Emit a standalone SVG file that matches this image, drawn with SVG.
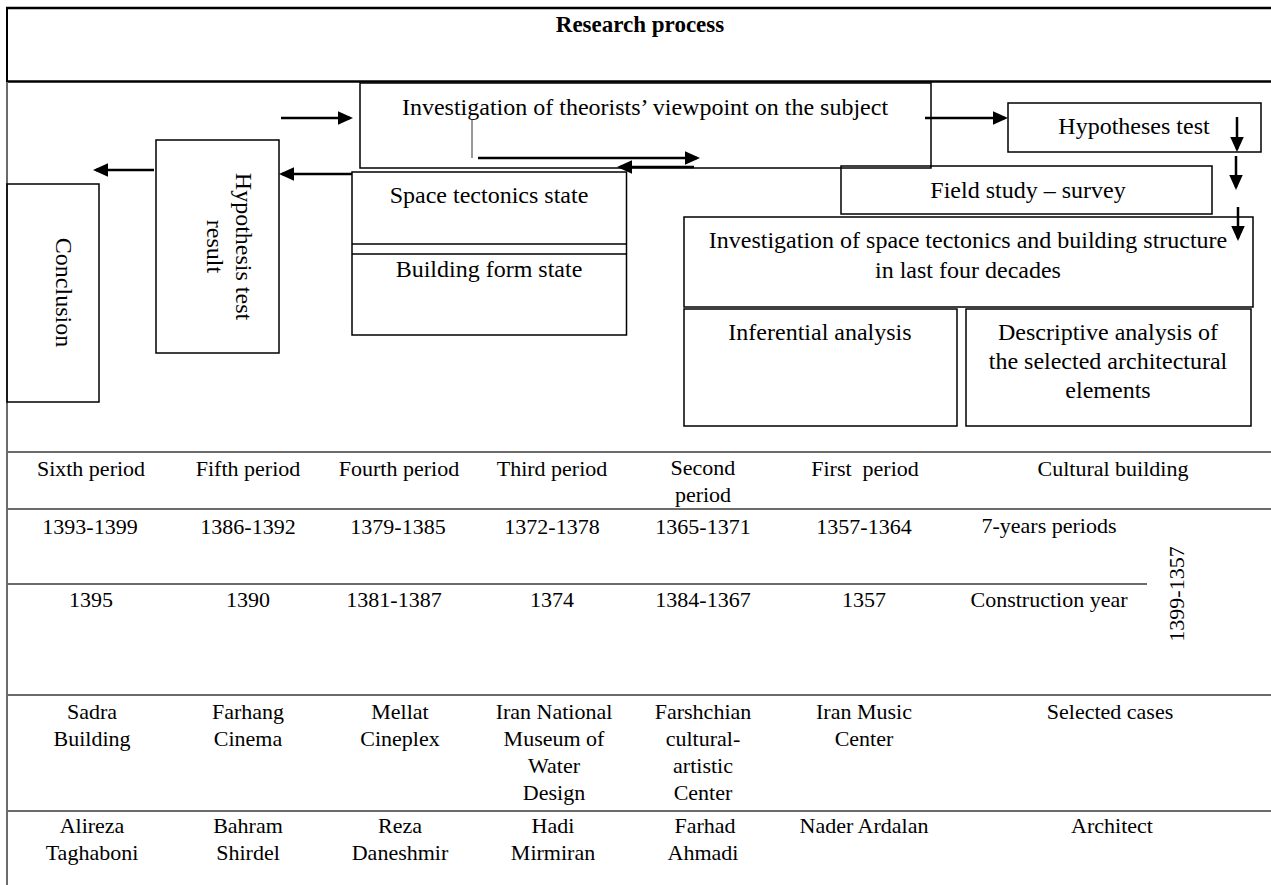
<svg xmlns="http://www.w3.org/2000/svg" width="1271" height="885" viewBox="0 0 1271 885">
<style>
.box{fill:none;stroke:#000;stroke-width:1.5}
.t{font-family:"Liberation Serif","Times New Roman",serif;font-size:24px;fill:#000;text-anchor:middle}
.tt{font-family:"Liberation Serif","Times New Roman",serif;font-size:22px;fill:#000;text-anchor:middle;white-space:pre}
.conn{stroke:#000;stroke-width:2.5;fill:none;marker-end:url(#ah)}
.grid{stroke:#6b6b6b;stroke-width:2;fill:none}
.frame{stroke:#000;stroke-width:2.5;fill:none}
</style>
<defs>
<marker id="ah" viewBox="0 0 10 10" refX="8" refY="5" markerWidth="6" markerHeight="6" orient="auto">
<path d="M0,0.5 L10,5 L0,9.5 z" fill="#000"/>
</marker>
</defs>
<rect width="1271" height="885" fill="#fff"/>

<g id="frame">
<line class="frame" x1="6" y1="8" x2="1271" y2="8"/>
<line class="frame" x1="6" y1="81.5" x2="1271" y2="81.5"/>
<line class="frame" x1="7" y1="8" x2="7" y2="82" style="stroke-width:2"/>
<line class="grid" x1="7" y1="82" x2="7" y2="885"/>
<text x="640" y="32" class="t" style="font-weight:bold;font-size:23px">Research process</text>
</g>

<g id="n-theorists">
<rect class="box" x="360" y="83" width="571" height="85"/>
<text x="645" y="115" class="t">Investigation of theorists’ viewpoint on the subject</text>
</g>
<g id="n-hypotheses">
<rect class="box" x="1008" y="103" width="253" height="49"/>
<text x="1134" y="134" class="t">Hypotheses test</text>
</g>
<g id="n-field">
<rect class="box" x="841" y="166" width="371" height="48"/>
<text x="1028" y="198" class="t">Field study – survey</text>
</g>
<g id="n-investigation-space">
<rect class="box" x="684" y="217" width="569" height="90"/>
<text x="968" y="248" class="t">Investigation of space tectonics and building structure</text>
<text x="968" y="278" class="t">in last four decades</text>
</g>
<g id="n-inferential">
<rect class="box" x="684" y="309" width="273" height="117"/>
<text x="820" y="340" class="t">Inferential analysis</text>
</g>
<g id="n-descriptive">
<rect class="box" x="966" y="309" width="285" height="117"/>
<text x="1108" y="340" class="t">Descriptive analysis of</text>
<text x="1108" y="369" class="t">the selected architectural</text>
<text x="1108" y="398" class="t">elements</text>
</g>
<g id="n-state">
<rect class="box" x="352" y="172" width="274.5" height="163"/>
<line class="box" x1="352" y1="244" x2="626.5" y2="244"/>
<line class="box" x1="352" y1="254" x2="626.5" y2="254"/>
<text x="489" y="203" class="t">Space tectonics state</text>
<text x="489" y="277" class="t">Building form state</text>
</g>
<g id="n-hypothesis-result">
<rect class="box" x="156" y="140" width="123" height="213"/>
<text class="t" transform="translate(236,246.5) rotate(90)">Hypothesis test</text>
<text class="t" transform="translate(207,246.5) rotate(90)">result</text>
</g>
<g id="n-conclusion">
<rect class="box" x="7" y="184" width="92" height="218"/>
<text class="t" transform="translate(56,292.5) rotate(90)">Conclusion</text>
</g>

<g id="connectors">
<line class="conn" x1="281" y1="118" x2="350" y2="118"/>
<line class="conn" x1="925" y1="118" x2="1005" y2="118"/>
<line class="conn" x1="1237" y1="117" x2="1237" y2="149"/>
<line class="conn" x1="1236" y1="156" x2="1236" y2="187"/>
<line class="conn" x1="1238" y1="207" x2="1238" y2="238"/>
<line class="conn" x1="352" y1="174" x2="282" y2="174"/>
<line class="conn" x1="154" y1="170" x2="96" y2="170"/>
<line class="conn" x1="478" y1="158" x2="697" y2="158"/>
<line class="conn" x1="694" y1="167" x2="620" y2="167"/>
<line x1="472" y1="119" x2="472" y2="158" stroke="#333" stroke-width="1"/>
</g>

<g id="table">
<line class="grid" x1="7" y1="452" x2="1271" y2="452"/>
<line class="grid" x1="7" y1="509" x2="1271" y2="509"/>
<line class="grid" x1="7" y1="584" x2="1147" y2="584"/>
<line class="grid" x1="7" y1="695" x2="1271" y2="695"/>
<line class="grid" x1="7" y1="811" x2="1271" y2="811"/>

<text class="tt" x="91" y="476">Sixth period</text>
<text class="tt" x="248" y="476">Fifth period</text>
<text class="tt" x="399" y="476">Fourth period</text>
<text class="tt" x="552" y="476">Third period</text>
<text class="tt" x="703" y="475">Second</text>
<text class="tt" x="703" y="502">period</text>
<text class="tt" x="865" y="476">First  period</text>
<text class="tt" x="1113" y="476">Cultural building</text>

<text class="tt" x="90" y="534">1393-1399</text>
<text class="tt" x="248" y="534">1386-1392</text>
<text class="tt" x="398" y="534">1379-1385</text>
<text class="tt" x="552" y="534">1372-1378</text>
<text class="tt" x="703" y="534">1365-1371</text>
<text class="tt" x="864" y="534">1357-1364</text>
<text class="tt" x="1049" y="533">7-years periods</text>

<text class="tt" x="91" y="607">1395</text>
<text class="tt" x="248" y="607">1390</text>
<text class="tt" x="394" y="607">1381-1387</text>
<text class="tt" x="552" y="607">1374</text>
<text class="tt" x="703" y="607">1384-1367</text>
<text class="tt" x="864" y="607">1357</text>
<text class="tt" x="1049" y="607">Construction year</text>
<text class="tt" transform="translate(1184,594) rotate(-90)">1399-1357</text>

<text class="tt" x="92" y="719">Sadra</text>
<text class="tt" x="92" y="746">Building</text>
<text class="tt" x="248" y="719">Farhang</text>
<text class="tt" x="248" y="746">Cinema</text>
<text class="tt" x="400" y="719">Mellat</text>
<text class="tt" x="400" y="746">Cineplex</text>
<text class="tt" x="554" y="719">Iran National</text>
<text class="tt" x="554" y="746">Museum of</text>
<text class="tt" x="554" y="773">Water</text>
<text class="tt" x="554" y="800">Design</text>
<text class="tt" x="703" y="719">Farshchian</text>
<text class="tt" x="703" y="746">cultural-</text>
<text class="tt" x="703" y="773">artistic</text>
<text class="tt" x="703" y="800">Center</text>
<text class="tt" x="864" y="719">Iran Music</text>
<text class="tt" x="864" y="746">Center</text>
<text class="tt" x="1110" y="719">Selected cases</text>

<text class="tt" x="92" y="833">Alireza</text>
<text class="tt" x="92" y="860">Taghaboni</text>
<text class="tt" x="248" y="833">Bahram</text>
<text class="tt" x="248" y="860">Shirdel</text>
<text class="tt" x="400" y="833">Reza</text>
<text class="tt" x="400" y="860">Daneshmir</text>
<text class="tt" x="553" y="833">Hadi</text>
<text class="tt" x="553" y="860">Mirmiran</text>
<text class="tt" x="705" y="833">Farhad</text>
<text class="tt" x="703" y="860">Ahmadi</text>
<text class="tt" x="864" y="833">Nader Ardalan</text>
<text class="tt" x="1112" y="833">Architect</text>
</g>
</svg>
